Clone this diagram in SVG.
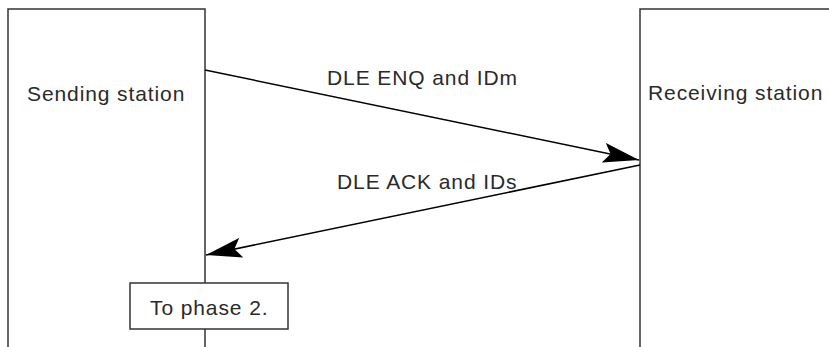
<svg xmlns="http://www.w3.org/2000/svg" width="829" height="347" viewBox="0 0 829 347">
<style>
.box{fill:none;stroke:#333;stroke-width:1.5}
.lbl{font-family:"Liberation Sans",Arial,sans-serif;font-size:21px;fill:#2a2a2a;letter-spacing:0.9px}
.conn{fill:none;stroke:#000;stroke-width:1.5;marker-end:url(#ah)}
</style>
<defs>
<marker id="ah" markerUnits="userSpaceOnUse" viewBox="0 0 36 20" markerWidth="36" markerHeight="20" refX="36" refY="10" orient="auto">
<path d="M36,10 L0,0 L7,10 L0,20 Z" fill="#000"/>
</marker>
</defs>
<rect width="829" height="347" fill="#fff"/>
<g id="sending">
<path class="box" d="M8,347 V9 H205 V347"/>
<text class="lbl" x="27" y="101">Sending station</text>
</g>
<g id="receiving">
<path class="box" d="M640,347 V9 H829"/>
<text class="lbl" x="648" y="100">Receiving station</text>
</g>
<g id="connectors">
<line class="conn" x1="205" y1="70" x2="639" y2="160"/>
<line class="conn" x1="640" y1="165" x2="206" y2="255"/>
<text class="lbl" x="327" y="85">DLE ENQ and IDm</text>
<text class="lbl" x="337" y="189">DLE ACK and IDs</text>
</g>
<g id="phase2">
<rect x="130" y="283" width="158" height="46" fill="#fff" stroke="#333" stroke-width="1.5"/>
<text class="lbl" x="150" y="315">To phase 2.</text>
</g>
</svg>
